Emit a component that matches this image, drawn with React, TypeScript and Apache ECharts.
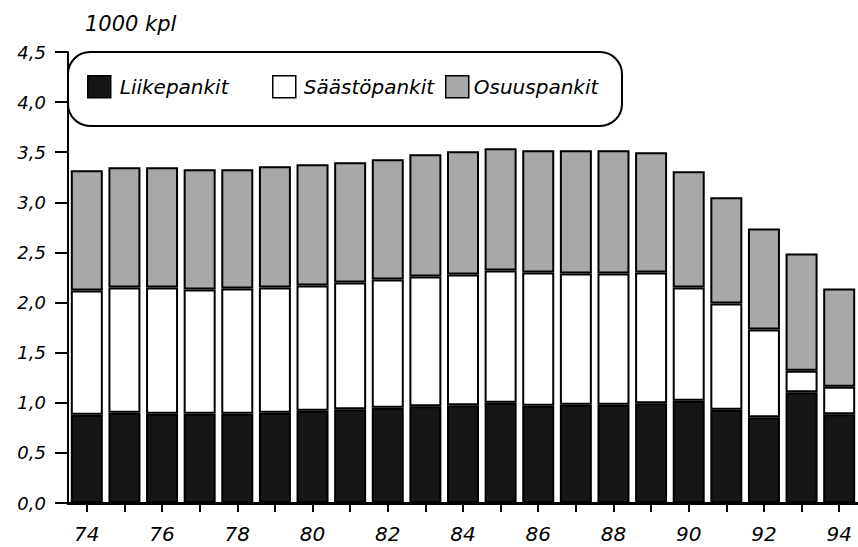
import React, { useEffect, useRef } from "react";
import * as echarts from "echarts";

const years = ["74","75","76","77","78","79","80","81","82","83","84","85","86","87","88","89","90","91","92","93","94"];
const liikepankit = [0.88,0.90,0.89,0.89,0.89,0.90,0.92,0.935,0.95,0.965,0.975,1.00,0.97,0.98,0.98,0.995,1.02,0.93,0.855,1.105,0.885];
const saastopankit = [1.24,1.25,1.26,1.24,1.25,1.25,1.25,1.265,1.28,1.295,1.305,1.32,1.33,1.31,1.31,1.305,1.13,1.06,0.875,0.215,0.275];
const osuuspankit = [1.20,1.20,1.20,1.20,1.19,1.21,1.21,1.20,1.20,1.22,1.23,1.22,1.22,1.23,1.23,1.20,1.16,1.06,1.01,1.17,0.98];
const seriesNames = ["Liikepankit", "Säästöpankit", "Osuuspankit"];
const unitLabel = "1000 kpl";

const FONT = "DejaVu Sans";

export default function App() {
  const ref = useRef<HTMLDivElement>(null);
  useEffect(() => {
    if (!ref.current) return;
    const chart = echarts.init(ref.current, null, { renderer: "svg" });
    const colors = ["#161616", "#ffffff", "#a8a8a8"];
    const datasets = [liikepankit, saastopankit, osuuspankit];
    const legendLefts = [82, 267, 440];
    const textPads = [4, 3, 0];
    chart.setOption({
      animation: false,
      backgroundColor: "#ffffff",
      title: {
        text: unitLabel,
        left: 80,
        top: 8,
        textStyle: { fontFamily: FONT, fontStyle: "italic", fontWeight: "normal", fontSize: 21, color: "#000" },
      },
      graphic: [
        {
          type: "rect",
          z: 1,
          shape: { x: 68, y: 52, width: 554, height: 74, r: 22 },
          style: { fill: "#fff", stroke: "#000", lineWidth: 2 },
        },
      ],
      legend: seriesNames.map((n, i) => ({
        data: [n],
        left: legendLefts[i],
        top: 70,
        z: 5,
        icon: "rect",
        itemWidth: 23,
        itemHeight: 22,
        itemStyle: { borderColor: "#000", borderWidth: 1.5 },
        textStyle: { fontFamily: FONT, fontStyle: "italic", fontSize: 20, color: "#000", padding: [0, 0, 0, textPads[i]] },
      })),
      grid: { left: 68, right: 0, top: 52, bottom: 44, containLabel: false },
      xAxis: {
        type: "category",
        data: years,
        axisLine: { lineStyle: { color: "#000", width: 3 } },
        axisTick: { show: true, alignWithLabel: true, interval: 0, length: 9, lineStyle: { color: "#000", width: 2 } },
        axisLabel: {
          interval: 1,
          margin: 21,
          fontFamily: FONT,
          fontStyle: "italic",
          fontSize: 20,
          color: "#000",
        },
      },
      yAxis: {
        type: "value",
        min: 0,
        max: 4.5,
        interval: 0.5,
        axisLine: { show: true, lineStyle: { color: "#000", width: 2 } },
        axisTick: { show: true, length: 13, lineStyle: { color: "#000", width: 2 } },
        splitLine: { show: false },
        axisLabel: {
          margin: 22,
          fontFamily: FONT,
          fontStyle: "italic",
          fontSize: 18,
          color: "#000",
          formatter: (v: number) => v.toFixed(1).replace(".", ","),
        },
      },
      series: seriesNames.map((n, i) => ({
        name: n,
        type: "bar",
        stack: "total",
        barWidth: 32,
        data: datasets[i],
        itemStyle: { color: colors[i], borderColor: "#000", borderWidth: 2 },
      })),
    });
    return () => chart.dispose();
  }, []);
  return <div ref={ref} style={{ position: "absolute", left: 0, top: 0, width: 858, height: 547 }} />;
}
